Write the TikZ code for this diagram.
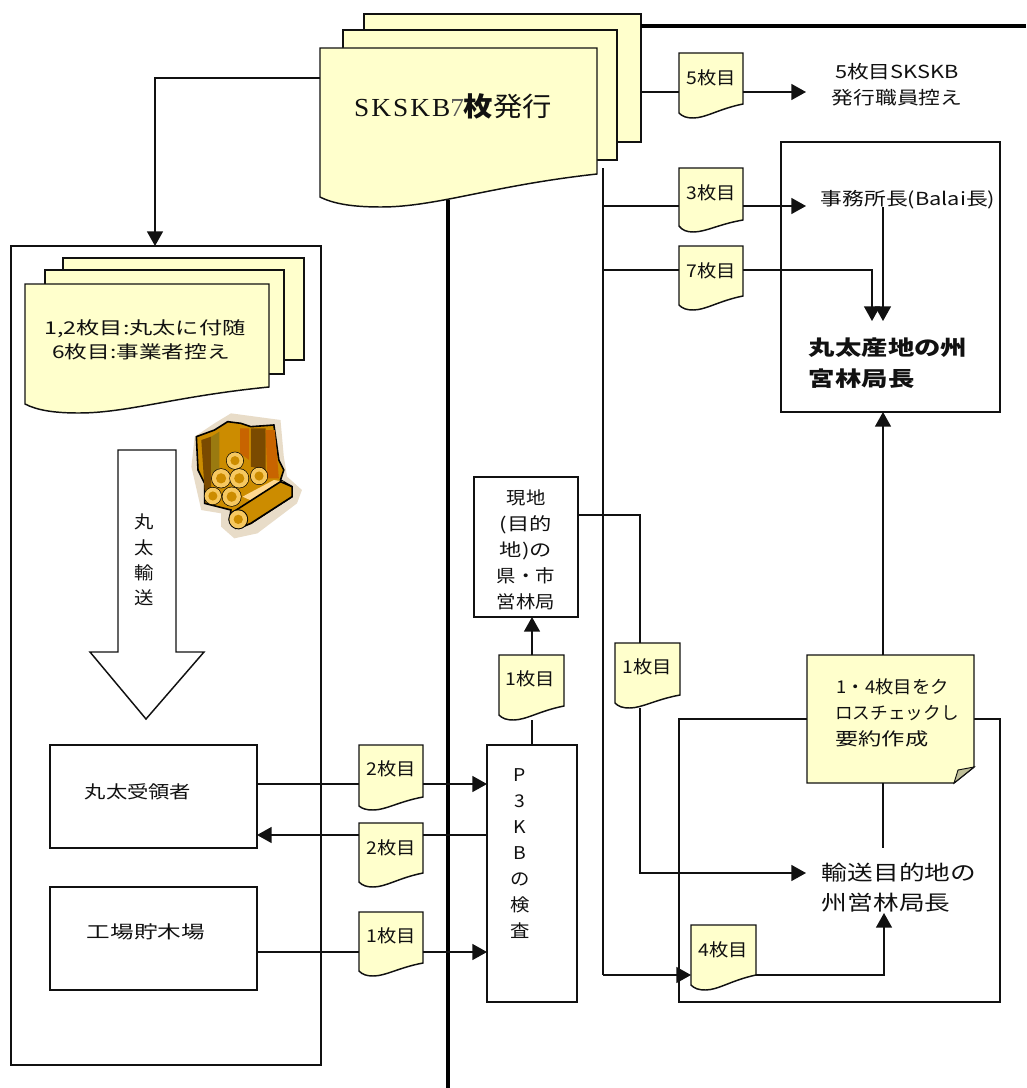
\documentclass[tikz,border=0pt]{standalone}
\usepackage{fontspec}
\usepackage{graphicx}
\usetikzlibrary{arrows.meta,calc}
\newfontfamily\jp[FakeStretch=1.1]{Noto Sans CJK JP}
\newfontfamily\latf[FakeStretch=1.05,LetterSpace=8]{Liberation Serif}
\definecolor{paper}{HTML}{FFFFCC}
\definecolor{ink}{HTML}{111111}
\definecolor{logdark}{HTML}{7A4A00}
\definecolor{logred}{HTML}{C86400}
\definecolor{loggold}{HTML}{CC8C00}
\definecolor{logolive}{HTML}{9A7A10}
\definecolor{logring}{HTML}{F6C860}
\definecolor{logcream}{HTML}{FFD890}
\definecolor{loghalo}{HTML}{E8DCC8}
\newcommand\wid[2]{\scalebox{#1}[1]{#2}}
\tikzset{
  conn/.style={draw=ink,line width=1.1pt},
  arr/.style={conn,-{Triangle[length=11pt,width=12pt]}},
  heavy/.style={draw=black,line width=2.6pt},
  sheet/.style={draw=ink,line width=1.1pt,fill=paper,line join=miter},
  boxn/.style={draw=ink,line width=1.1pt,rectangle,inner sep=0,outer sep=0},
  hook/.style={rectangle,inner sep=0,outer sep=0},
  lbl/.style={font=\jp\fontsize{13.2}{19.5}\selectfont,align=center,inner sep=0,text=ink},
  lblL/.style={lbl,align=left},
  big/.style={font=\jp\fontsize{20}{22}\selectfont,align=center,inner sep=0,text=ink},
}
% name, x1, top, x2, y right-bottom, y lowest, y left-bottom
\newcommand\docu[7]{%
  \draw[sheet] (#2,#3) -- (#4,#3) -- (#4,#5)
    .. controls ({#4-0.38*(#4-#2)},{#5+0.35*(#6-#5)}) and ({#2+0.42*(#4-#2)},#6) .. ({#2+0.22*(#4-#2)},#6)
    .. controls ({#2+0.12*(#4-#2)},#6) and ({#2+0.05*(#4-#2)},{#6-0.3*(#6-#7)}) .. (#2,#7) -- cycle;
  \node[hook,minimum width={(#4-#2)*0.75pt},minimum height={(#5-#3)*0.75pt}] (#1) at ({(#2+#4)/2},{(#3+#5)/2}) {};
}
\newcommand\bxn[5]{%
  \node[boxn,minimum width={(#4-#2)*0.75pt},minimum height={(#5-#3)*0.75pt}] (#1) at ({(#2+#4)/2},{(#3+#5)/2}) {};
}
\begin{document}
\begin{tikzpicture}[x=0.75pt,y=-0.75pt]
\useasboundingbox[fill=white] (0,0) rectangle (1026,1088);

% containers
\bxn{outer}{11}{246}{321}{1065}
\bxn{rbox}{781}{142}{1000}{412}
\bxn{cbox}{679}{719}{1000}{1002}
\bxn{genchi}{474}{477}{578}{617}
\bxn{p3kb}{487}{745}{577}{1002}
\bxn{juryo}{50}{745}{257}{848}
\bxn{kojo}{50}{887}{257}{990}

% large stack
\docu{bk}{364}{14}{641}{142}{142}{142}
\docu{md}{343}{30}{617}{160}{160}{160}
\docu{big}{320}{48}{597}{174}{207}{197}
\node[big] (tbig) at (453,106) {{\latf\fontsize{19.5}{22}\selectfont SKSKB}{\latf\fontsize{19.5}{22}\selectfont\color{gray!70!black}7}{\bfseries 枚}発行};

% small stack
\docu{sbk}{63}{258}{304}{360}{360}{360}
\docu{smd}{45}{270}{284}{374}{374}{374}
\docu{sfr}{25}{284}{269}{387}{413}{404}
\node[lblL] (tsfr) at (145,340) {\wid{1.2}{1,2枚目:丸太に付随}\\[-1pt]\hspace{6pt}\wid{1.17}{6枚目:事業者控え}};

% log pile
\begin{scope}[shift={(0,240)},x=0.2475pt,y=-0.25pt]
  \fill[fill=loghalo] (580,680) -- (590,590) -- (650,550) -- (700,520) -- (850,540) -- (860,650) -- (870,710) -- (915,750) -- (900,790) -- (780,880) -- (710,895) -- (670,860) -- (670,820) -- (610,810) -- cycle;
  \draw[fill=loggold,draw=black,line width=1.2pt] (595,590) -- (650,570) -- (690,545) -- (730,550) -- (760,560) -- (830,555) -- (845,660) -- (860,690) -- (850,720) -- (885,740) -- (885,770) -- (760,850) -- (715,865) -- (695,840) -- (700,810) -- (620,790) -- (620,730) -- (600,690) -- cycle;
  \fill[fill=logdark] (610,600) -- (640,590) -- (640,745) -- (620,750) -- cycle;
  \fill[fill=logolive] (640,590) -- (665,575) -- (665,690) -- (640,700) -- cycle;
  \fill[fill=logred] (728,565) -- (755,565) -- (755,660) -- (728,640) -- cycle;
  \fill[fill=logdark] (760,565) -- (805,565) -- (805,690) -- (760,680) -- cycle;
  \fill[fill=logred] (805,570) -- (833,570) -- (845,715) -- (810,715) -- cycle;
  \fill[fill=logcream] (735,770) -- (830,720) -- (860,725) -- (780,790) -- cycle;
  \foreach \cx/\cy/\r in {712/662/25,670/715/28,725/715/28,785/708/25,645/768/25,702/770/28} {
    \fill[black] (\cx,\cy) circle [radius=\r+2];
    \fill[logring] (\cx,\cy) circle [radius=\r];
    \fill[loggold] (\cx,\cy) circle [radius=\r*0.55];
  }
  \draw[fill=loggold,draw=black,line width=1.2pt] (700,820) -- (850,725) -- (885,740) -- (885,770) -- (760,850) -- (725,865) -- cycle;
  \fill[black] (722,838) circle [radius=30];
  \fill[logring] (722,838) circle [radius=27];
  \fill[loggold] (722,838) circle [radius=14];
\end{scope}

% transport arrow
\draw[draw=ink,line width=1.1pt,fill=white] (118,450) -- (176,450) -- (176,652) -- (204,652) -- (146,719) -- (90,652) -- (118,652) -- cycle;
\node[lbl,font=\jp\fontsize{13.2}{19}\selectfont] (tyuso) at (144,560) {丸\\太\\輸\\送};

% page slips
\docu{d5}{679}{53}{743}{104}{118}{113}
\docu{d3}{679}{168}{743}{220}{232}{226}
\docu{d7}{679}{246}{743}{296}{310}{305}
\docu{d1a}{499}{655}{564}{706}{720}{715}
\docu{d1b}{615}{643}{680}{695}{708}{703}
\docu{d2a}{359}{745}{423}{797}{810}{806}
\docu{d2b}{359}{823}{423}{873}{887}{882}
\docu{d1c}{359}{912}{423}{963}{976}{971}
\docu{d4}{691}{925}{756}{975}{990}{985}
\node[lbl] (t5) at (711,78) {5枚目};
\node[lbl] (t3) at (711,193) {3枚目};
\node[lbl] (t7) at (711,271) {7枚目};
\node[lbl] (t1a) at (530,679) {1枚目};
\node[lbl] (t1b) at (647,667) {1枚目};
\node[lbl] (t2a) at (391,769) {2枚目};
\node[lbl] (t2b) at (391,848) {2枚目};
\node[lbl] (t1c) at (391,936) {1枚目};
\node[lbl] (t4) at (723,950) {4枚目};

% note
\draw[sheet] (807,655) -- (974,655) -- (974,767) -- (954,783) -- (807,783) -- cycle;
\draw[draw=ink,line width=0.7pt,fill=black!25!paper] (954,783) -- (958,770) -- (974,767) -- cycle;
\node[hook,minimum width=125.25pt,minimum height=96pt] (note) at (890.5,719) {};
\node[lblL] (tnote) at (897,713) {\hspace{1pt}\wid{0.95}{1・4枚目をク}\\\wid{0.91}{ロスチェックし}\\\wid{1.2}{要約作成}};

% labels
\node[lbl,font=\jp\fontsize{13.5}{19.5}\selectfont] (tkoe) at (897,85) {\wid{1.1}{5枚目SKSKB}\\\wid{1.1}{発行職員控え}};
\node[lbl,font=\jp\fontsize{13.5}{15}\selectfont] (tjimu) at (908,200) {\wid{1.1}{事務所長(Balai長)}};
\node[lblL,font=\jp\bfseries\fontsize{15.5}{23}\selectfont] (tsanchi) at (888,363) {\wid{1.16}{丸太産地の州}\\\wid{1.16}{宮林局長}};
\node[lblL,font=\jp\fontsize{15.5}{22.5}\selectfont] (tdest) at (899,888) {\wid{1.13}{輸送目的地の}\\\wid{1.13}{州営林局長}};
\node[lbl] (tgen) at (526,550) {現地\\\wid{1.15}{(目的}\\\wid{1.15}{地)の}\\県・市\\営林局};
\node[lbl] (tp3) at (520,854) {P\\3\\K\\B\\の\\検\\査};
\node[lbl] (tjur) at (138,792) {\wid{1.1}{丸太受領者}};
\node[lbl] (tkoj) at (146,932) {\wid{1.22}{工場貯木場}};

% named route points
\coordinate (cl) at (155,78);
\coordinate (c5) at (806,92);
\coordinate (c3) at (806,206);
\coordinate (c7) at (872,270);
\coordinate (c7e) at (872,321);
\coordinate (cj) at (883,207);
\coordinate (cje) at (883,321);
\coordinate (tr) at (603,168);
\coordinate (tb) at (603,975);
\coordinate (h1) at (1026,26);
\coordinate (v1) at (448,200);
\coordinate (v2) at (448,1088);
\coordinate (a1) at (640,515);
\coordinate (a2) at (640,873);
\coordinate (a3) at (806,873);
\coordinate (n1) at (883,848);
\coordinate (f1) at (884,975);
\coordinate (f2) at (884,913);
\coordinate (y1) at (0,784);
\coordinate (y2) at (0,835);
\coordinate (y3) at (0,952);

% connectors
\draw[heavy] (bk.east |- h1) -- (h1);
\draw[heavy] (v1) -- (v2);
\draw[arr] (big.west |- cl) -- (cl) -- (cl |- outer.north);
\draw[conn] (bk.east |- c5) -- (d5.west |- c5);
\draw[arr] (d5.east |- c5) -- (c5);
\draw[conn] (tr) -- (tb);
\draw[conn] (tr |- c3) -- (d3.west |- c3);
\draw[arr] (d3.east |- c3) -- (c3);
\draw[conn] (tr |- c7) -- (d7.west |- c7);
\draw[arr] (d7.east |- c7) -- (c7) -- (c7e);
\draw[arr] (cj) -- (cje);
\draw[arr] (tb) -- (d4.west |- tb);
\draw[arr] (d4.east |- tb) -- (f1) -- (f2);
\draw[conn] (note.south -| n1) -- (n1);
\draw[arr] (note.north -| n1) -- (rbox.south -| n1);
\draw[conn] (genchi.east |- a1) -- (a1) -- (a1 |- d1b.north);
\draw[arr] (a1 |- 0,708) -- (a2) -- (a3);
\draw[arr] (d1a.north -| p3kb.north) -- (genchi.south -| p3kb.north);
\draw[conn] (d1a.south -| p3kb.north) ++(0,14) -- (p3kb.north);
\draw[conn] (juryo.east |- y1) -- (d2a.west |- y1);
\draw[arr] (d2a.east |- y1) -- (p3kb.west |- y1);
\draw[conn] (p3kb.west |- y2) -- (d2b.east |- y2);
\draw[arr] (d2b.west |- y2) -- (juryo.east |- y2);
\draw[conn] (kojo.east |- y3) -- (d1c.west |- y3);
\draw[arr] (d1c.east |- y3) -- (p3kb.west |- y3);
\end{tikzpicture}
\end{document}
